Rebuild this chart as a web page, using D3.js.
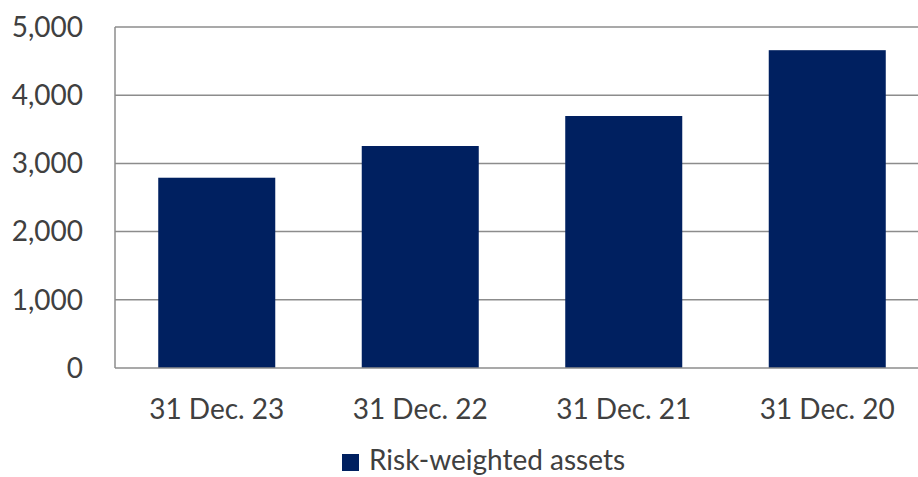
<!DOCTYPE html>
<html>
<head>
<meta charset="utf-8">
<script src="https://cdnjs.cloudflare.com/ajax/libs/d3/7.8.5/d3.min.js"></script>
<style>
  body { margin: 0; background: #fff; }
  svg text { font-family: Lato, "Open Sans", sans-serif; fill: #404040; }
</style>
</head>
<body>
<div id="chart"></div>
<script>
// data
var categories = ["31 Dec. 23", "31 Dec. 22", "31 Dec. 21", "31 Dec. 20"]
var rwa = [2790, 3255, 3695, 4660]
var yTicks = [0, 1000, 2000, 3000, 4000, 5000]
var seriesName = "Risk-weighted assets"

const W = 918, H = 477
const margin = {top: 27, left: 115, bottom: 109}
const plotW = 814
const plotH = H - margin.top - margin.bottom

const svg = d3.select("#chart").append("svg")
    .attr("width", W).attr("height", H)

const g = svg.append("g").attr("transform", `translate(${margin.left},${margin.top})`)

const x = d3.scaleBand().domain(categories).range([0, plotW]).paddingInner(0.425).paddingOuter(0.2125)
const y = d3.scaleLinear().domain([0, 5000]).range([plotH, 0])

// gridlines
g.append("g")
    .selectAll("line")
    .data(yTicks.filter(d => d > 0))
    .join("line")
    .attr("x1", 0).attr("x2", plotW)
    .attr("y1", d => y(d)).attr("y2", d => y(d))
    .attr("stroke", "#8c8c8c").attr("stroke-width", 1.5)

// bars
g.append("g")
    .selectAll("rect")
    .data(rwa)
    .join("rect")
    .attr("x", (d, i) => x(categories[i]))
    .attr("width", x.bandwidth())
    .attr("y", d => y(d))
    .attr("height", d => plotH - y(d))
    .attr("fill", "#002060")

// axes lines
g.append("line").attr("x1", 0).attr("x2", 0).attr("y1", 0).attr("y2", plotH)
    .attr("stroke", "#8c8c8c").attr("stroke-width", 1.5)
g.append("line").attr("x1", 0).attr("x2", plotW).attr("y1", plotH).attr("y2", plotH)
    .attr("stroke", "#8c8c8c").attr("stroke-width", 1.5)

// y labels
const fmt = d3.format(",")
g.append("g")
    .selectAll("text")
    .data(yTicks)
    .join("text")
    .attr("x", -32)
    .attr("y", d => y(d))
    .attr("dy", "0.35em")
    .attr("text-anchor", "end")
    .style("font-size", "28px")
    .text(d => fmt(d))

// x labels
g.append("g")
    .selectAll("text")
    .data(categories)
    .join("text")
    .attr("x", d => x(d) + x.bandwidth() / 2)
    .attr("y", plotH + 51)
    .attr("text-anchor", "middle")
    .style("font-size", "28px")
    .text(d => d)

// legend
const lg = svg.append("g").attr("transform", "translate(342,454)")
lg.append("rect").attr("width", 17).attr("height", 17).attr("fill", "#002060")
lg.append("text").attr("x", 27).attr("y", 16).style("font-size", "28px").text(seriesName)
</script>
</body>
</html>
